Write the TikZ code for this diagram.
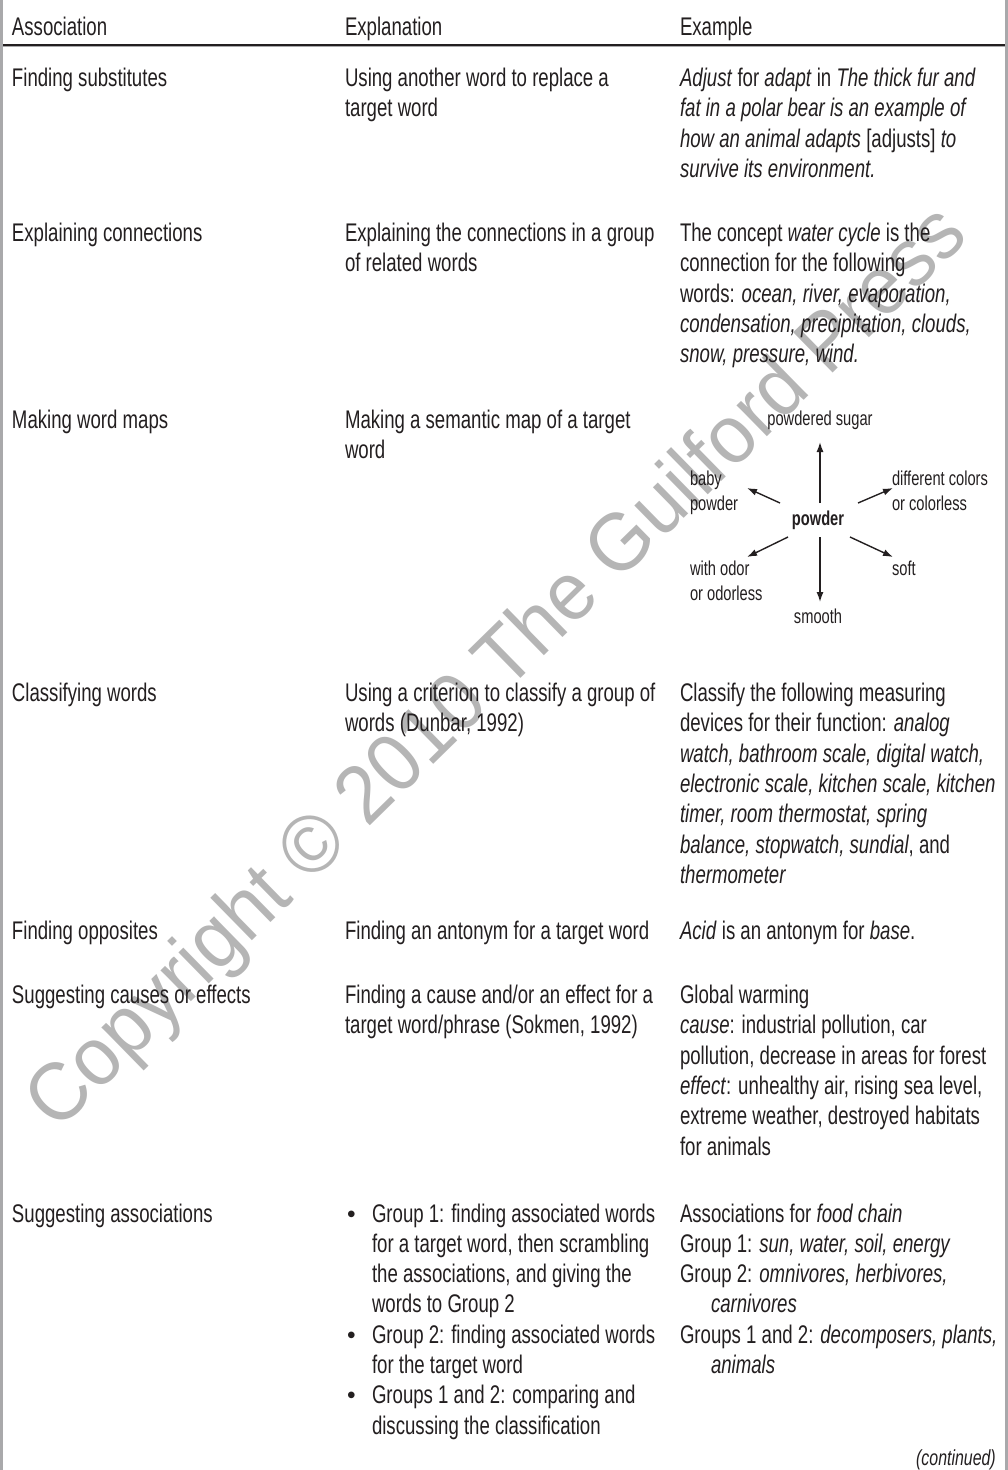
\documentclass[tikz,border=0pt]{standalone}
\usepackage{fontspec}
\setmainfont[FakeStretch=0.73]{Liberation Sans}
\newfontfamily\wmfont[FakeStretch=0.95]{Liberation Sans}
\newfontfamily\bulletfont{Liberation Sans}
\usetikzlibrary{arrows.meta}
\definecolor{ink}{HTML}{231F20}
\definecolor{rulegray}{HTML}{A9A9AB}
\definecolor{wmgray}{HTML}{B5B5B5}
\tikzset{
  cell/.style={anchor=north west, inner sep=0pt, outer sep=0pt, align=left, text=ink,
    font=\fontsize{25.5}{30.3}\selectfont, yshift=21.21pt},
  mapleft/.style={anchor=north west, inner sep=0pt, outer sep=0pt, align=left, text=ink,
    font=\fontsize{20.1}{25}\selectfont, yshift=17.5pt},
  mapmid/.style={anchor=north, inner sep=0pt, outer sep=0pt, align=center, text=ink,
    font=\fontsize{20.1}{25}\selectfont, yshift=17.5pt},
  maparrow/.style={draw=ink, line width=1.4pt, -{Latex[length=10pt,width=7pt]}},
  bul/.style={anchor=north west, inner sep=0pt, outer sep=0pt, text=ink,
    font=\bulletfont\fontsize{24.5}{30.3}\selectfont, yshift=21.21pt},
}
\begin{document}
\begin{tikzpicture}[x=1pt,y=-1pt]
\useasboundingbox (0,0) rectangle (1008,1470);
\fill[white] (0,0) rectangle (1008,1470);
% watermark
\node[rotate=44.4, text=wmgray, inner sep=0pt, font=\wmfont\fontsize{82}{90}\selectfont] (wm) at (499,670) {Copyright © 2010 The Guilford Press};
% frame
\fill[rulegray] (0,0) rectangle (3,1470);
\fill[rulegray] (1004.5,0) rectangle (1008,1470);
\draw[line width=1.4pt, ink] (3,44.8) -- (1004.5,44.8);
\draw[line width=0.9pt, rulegray] (3,46.6) -- (1004.5,46.6);
% header
\node[cell] (h1) at (12,35) {\strut Association};
\node[cell] (h2) at (345,35) {\strut Explanation};
\node[cell] (h3) at (680,35) {\strut Example};
% row 1
\node[cell] (a1) at (12,86.5) {\strut Finding substitutes};
\node[cell] (b1) at (345,86.5) {\strut Using another word to replace a\\target word};
\node[cell] (c1) at (680,86.5) {\strut\textit{Adjust} for \textit{adapt} in \textit{The thick fur and}\\\textit{fat in a polar bear is an example of}\\\textit{how an animal adapts} [adjusts] \textit{to}\\\textit{survive its environment.}};
% row 2
\node[cell] (a2) at (12,241.5) {\strut Explaining connections};
\node[cell] (b2) at (345,241.5) {\strut Explaining the connections in a group\\of related words};
\node[cell] (c2) at (680,241.5) {\strut The concept \textit{water cycle} is the\\connection for the following\\words: \textit{ocean, river, evaporation,}\\\textit{condensation, precipitation, clouds,}\\\textit{snow, pressure, wind.}};
% row 3
\node[cell] (a3) at (12,428.5) {\strut Making word maps};
\node[cell] (b3) at (345,428.5) {\strut Making a semantic map of a target\\word};
% word map
\node[mapmid] (mSugar) at (820,425) {\strut powdered sugar};
\node[mapleft] (mBaby) at (690,485) {\strut baby\\powder};
\node[mapleft] (mColor) at (892,485) {\strut different colors\\or colorless};
\node[mapmid] (mCenter) at (818,525) {\strut\textbf{powder}};
\node[mapleft] (mOdor) at (690,575) {\strut with odor\\or odorless};
\node[mapleft] (mSoft) at (892,575) {\strut soft};
\node[mapmid] (mSmooth) at (818,623) {\strut smooth};
\coordinate (upS) at (820,503);  \coordinate (upE) at (820,442);
\coordinate (dnS) at (820,537);  \coordinate (dnE) at (820,602);
\coordinate (ulS) at (780,503);  \coordinate (ulE) at (747,488);
\coordinate (urS) at (858,503);  \coordinate (urE) at (893,488);
\coordinate (llS) at (788,537);  \coordinate (llE) at (747,557);
\coordinate (lrS) at (850,537);  \coordinate (lrE) at (893,557);
\draw[maparrow] (upS) -- (upE);
\draw[maparrow] (dnS) -- (dnE);
\draw[maparrow] (ulS) -- (ulE);
\draw[maparrow] (urS) -- (urE);
\draw[maparrow] (llS) -- (llE);
\draw[maparrow] (lrS) -- (lrE);
% row 4
\node[cell] (a4) at (12,701.5) {\strut Classifying words};
\node[cell] (b4) at (345,701.5) {\strut Using a criterion to classify a group of\\words (Dunbar, 1992)};
\node[cell] (c4) at (680,701.5) {\strut Classify the following measuring\\devices for their function: \textit{analog}\\\textit{watch, bathroom scale, digital watch,}\\\textit{electronic scale, kitchen scale, kitchen}\\\textit{timer, room thermostat, spring}\\\textit{balance, stopwatch, sundial}, and\\\textit{thermometer}};
% row 5
\node[cell] (a5) at (12,939.5) {\strut Finding opposites};
\node[cell] (b5) at (345,939.5) {\strut Finding an antonym for a target word};
\node[cell] (c5) at (680,939.5) {\strut\textit{Acid} is an antonym for \textit{base}.};
% row 6
\node[cell] (a6) at (12,1003.5) {\strut Suggesting causes or effects};
\node[cell] (b6) at (345,1003.5) {\strut Finding a cause and/or an effect for a\\target word/phrase (Sokmen, 1992)};
\node[cell] (c6) at (680,1003.5) {\strut Global warming\\\textit{cause}: industrial pollution, car\\pollution, decrease in areas for forest\\\textit{effect}: unhealthy air, rising sea level,\\extreme weather, destroyed habitats\\for animals};
% row 7
\node[cell] (a7) at (12,1222) {\strut Suggesting associations};
\node[bul] (bu1) at (347,1222) {\strut •};
\node[cell] (b7a) at (372,1222) {\strut Group 1: finding associated words\\for a target word, then scrambling\\the associations, and giving the\\words to Group 2};
\node[bul] (bu2) at (347,1343.2) {\strut •};
\node[cell] (b7b) at (372,1343.2) {\strut Group 2: finding associated words\\for the target word};
\node[bul] (bu3) at (347,1403.8) {\strut •};
\node[cell] (b7c) at (372,1403.8) {\strut Groups 1 and 2: comparing and\\discussing the classification};
\node[cell] (c7) at (680,1222) {\strut Associations for \textit{food chain}\\Group 1: \textit{sun, water, soil, energy}\\Group 2: \textit{omnivores, herbivores,}\\\hspace*{31pt}\textit{carnivores}\\Groups 1 and 2: \textit{decomposers, plants,}\\\hspace*{31pt}\textit{animals}};
% continued
\node[anchor=north east, inner sep=0pt, text=ink, font=\fontsize{21.8}{26}\selectfont, yshift=18.2pt] (cont) at (996,1465) {\strut\textit{(continued)}};
\end{tikzpicture}
\end{document}
